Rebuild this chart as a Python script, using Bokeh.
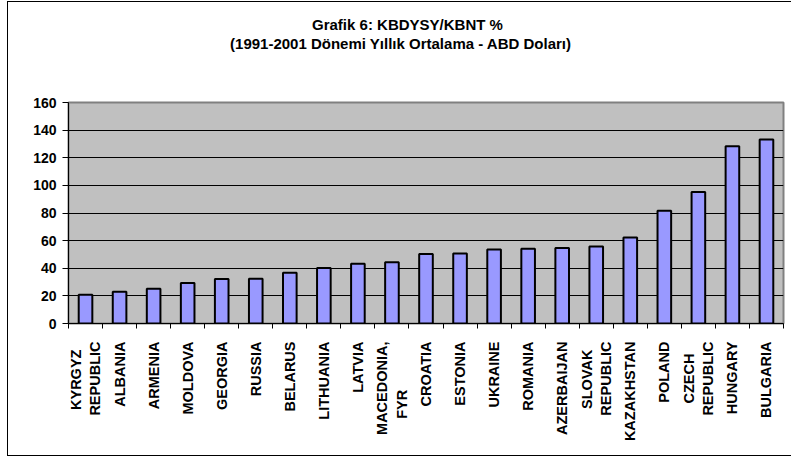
import math
from bokeh.plotting import figure
from bokeh.models import FixedTicker, Title, Range1d
from bokeh.embed import file_html
from bokeh.resources import INLINE

# ---- data ----
NB = "\u00a0"
countries = ["KYRGYZ" + NB * 2 + "\nREPUBLIC", "ALBANIA", "ARMENIA", "MOLDOVA",
             "GEORGIA", "RUSSIA", "BELARUS", "LITHUANIA", "LATVIA",
             "MACEDONIA,\nFYR" + NB * 12, "CROATIA", "ESTONIA", "UKRAINE",
             "ROMANIA", "AZERBAIJAN", "SLOVAK" + NB * 2 + "\nREPUBLIC",
             "KAZAKHSTAN", "POLAND", "CZECH" + NB * 3 + "\nREPUBLIC",
             "HUNGARY", "BULGARIA"]
values = [20.8, 23.0, 25.2, 29.3, 32.2, 32.4, 36.8, 40.2, 43.3, 44.3,
          50.4, 50.6, 53.5, 54.2, 54.7, 55.7, 62.2, 81.6, 95.2, 128.3, 133.2]
y_ticks = [0, 20, 40, 60, 80, 100, 120, 140, 160]
title_line1 = "Grafik 6: KBDYSY/KBNT %"
title_line2 = "(1991-2001 Dönemi Yıllık Ortalama - ABD Doları)"

# ---- layout constants ----
W, H = 784, 455
FL, FR, FT, FB = 60, 9, 100, 134
n = len(countries)
ymax = 160

centers = [i + 0.5 for i in range(n)]
bounds = list(range(n + 1))

p = figure(width=W, height=H, output_backend="svg", toolbar_location=None,
           x_range=Range1d(0, n), y_range=Range1d(0, ymax),
           min_border_left=FL, min_border_right=FR, min_border_top=FT,
           min_border_bottom=FB, title=None,
           styles={"margin-left": "7px", "margin-top": "1px",
                   "border-left": "1px solid black",
                   "border-top": "1px solid black",
                   "border-bottom": "1px solid black"})
p.background_fill_color = "#C0C0C0"
p.border_fill_color = "white"
p.outline_line_color = "#808080"
p.outline_line_width = 2

p.vbar(x=centers, top=values, width=0.4, fill_color="#9999FF",
       line_color="black", line_width=2)

font = "Liberation Sans"
# y axis
ya = p.yaxis[0]
ya.ticker = FixedTicker(ticks=y_ticks, minor_ticks=[])
ya.axis_line_color = "black"
ya.major_tick_line_color = "black"
ya.major_tick_out = 6
ya.major_tick_in = 0
ya.minor_tick_line_color = None
ya.major_label_standoff = 6
ya.major_label_text_font = font
ya.major_label_text_font_style = "bold"
ya.major_label_text_font_size = "14px"
ya.major_label_text_color = "black"

# x axis
xa = p.xaxis[0]
xa.ticker = FixedTicker(ticks=centers, minor_ticks=bounds)
xa.major_label_overrides = {c: lab for c, lab in zip(centers, countries)}
xa.axis_line_color = "black"
xa.major_tick_out = 0
xa.major_tick_in = 0
xa.minor_tick_out = 5
xa.minor_tick_in = 0
xa.minor_tick_line_color = "black"
xa.major_label_orientation = math.pi / 2
xa.major_label_standoff = 13
xa.major_label_text_font = font
xa.major_label_text_font_style = "bold"
xa.major_label_text_font_size = "14.5px"
xa.major_label_text_color = "black"

p.xgrid.visible = False
p.ygrid.ticker = FixedTicker(ticks=y_ticks)
p.ygrid.grid_line_color = "black"
p.ygrid.grid_line_width = 1

# title: spacer panel next to the frame, then the two title lines
tfs = 15
p.add_layout(Title(text=" ", standoff=32, text_font=font,
                   text_font_size=f"{tfs}px"), "above")
cx_page = 401
frame_left_page = 7 + 1 + FL
for txt, em in ((title_line2, 22.86), (title_line1, 11.93)):
    off = cx_page - em * tfs / 2 - frame_left_page
    p.add_layout(Title(text=txt, align="left", offset=off, standoff=0,
                       text_font=font, text_font_style="bold",
                       text_font_size=f"{tfs}px", text_color="black"), "above")

open("out.html", "w").write(file_html(p, INLINE))
